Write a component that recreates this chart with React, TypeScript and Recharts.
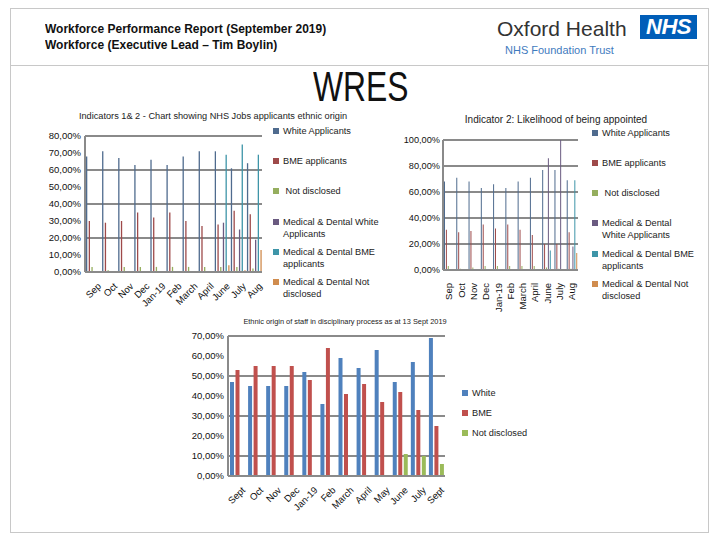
import React from 'react';
import { BarChart, Bar, XAxis, YAxis, CartesianGrid } from 'recharts';

// ---------- Chart 1: Indicators 1 & 2 ----------
const months1 = ['Sep', 'Oct', 'Nov', 'Dec', 'Jan-19', 'Feb', 'March', 'April', 'June', 'July', 'Aug'];
const c1White = [68, 71, 67, 63, 66, 63, 68, 71, 71, 61, 64];
const c1Bme = [30, 29, 30, 35, 32, 35, 30, 27, 28, 36, 34];
const c1Nd = [3, 1, 3, 3, 3, 3, 3, 3, 3, 3, 2];
const c1MdWhite = [0, 0, 0, 0, 0, 0, 0, 0, 29, 25, 19];
const c1MdBme = [0, 0, 0, 0, 0, 0, 0, 0, 69, 75, 69];
const c1MdNd = [0, 0, 0, 0, 0, 0, 0, 0, 4, 1, 13];
const ticks1 = [0, 10, 20, 30, 40, 50, 60, 70, 80];

// ---------- Chart 2: Likelihood of being appointed ----------
const months2 = ['Sep', 'Oct', 'Nov', 'Dec', 'Jan-19', 'Feb', 'March', 'April', 'June', 'July', 'Aug'];
const c2White = [68, 71, 68, 63, 66, 63, 68, 71, 77, 77, 69];
const c2Bme = [31, 29, 30, 35, 32, 35, 31, 27, 20, 20, 29];
const c2Nd = [3, 1, 2, 3, 3, 3, 3, 3, 2, 1, 1];
const c2MdWhite = [0, 0, 0, 0, 0, 0, 0, 0, 86, 100, 18];
const c2MdBme = [0, 0, 0, 0, 0, 0, 0, 0, 15, 0, 69];
const c2MdNd = [0, 0, 0, 0, 0, 0, 0, 0, 0, 0, 13];
const ticks2 = [0, 10, 20, 30, 40, 50, 60, 70, 80, 90, 100];

// ---------- Chart 3: Disciplinary process ----------
const months3 = ['Sept', 'Oct', 'Nov', 'Dec', 'Jan-19', 'Feb', 'March', 'April', 'May', 'June', 'July', 'Sept'];
const c3White = [47, 45, 45, 45, 52, 36, 59, 54, 63, 47, 57, 69];
const c3Bme = [53, 55, 55, 55, 48, 64, 41, 46, 37, 42, 33, 25];
const c3Nd = [0, 0, 0, 0, 0, 0, 0, 0, 0, 11, 10, 6];
const ticks3 = [0, 10, 20, 30, 40, 50, 60, 70];

const legend1 = ['White Applicants', 'BME applicants', ' Not disclosed', 'Medical & Dental White\nApplicants', 'Medical & Dental BME\napplicants', 'Medical & Dental Not\ndisclosed'];
const legend2 = ['White Applicants', 'BME applicants', ' Not disclosed', 'Medical & Dental\nWhite Applicants', 'Medical & Dental BME\napplicants', 'Medical & Dental Not\ndisclosed'];
const legend3 = ['White', 'BME', 'Not disclosed'];

const data1 = months1.map((m, i) => ({ m, a: c1White[i], b: c1Bme[i], c: c1Nd[i], d: c1MdWhite[i], e: c1MdBme[i], f: c1MdNd[i] }));
const data2 = months2.map((m, i) => ({ m, a: c2White[i], b: c2Bme[i], c: c2Nd[i], d: c2MdWhite[i], e: c2MdBme[i], f: c2MdNd[i] }));
const data3 = months3.map((m, i) => ({ m, a: c3White[i], b: c3Bme[i], c: c3Nd[i] }));

const colsA = ['#4F6B8E', '#9E4A4A', '#95AE5E', '#6A5A80', '#3E95A8', '#D08C4E'];
const colsB = ['#4F81BD', '#C0504D', '#9BBB59'];

const FONT = "'Liberation Sans', Arial, sans-serif";
const fmt = (v: number) => `${v.toFixed(2).replace('.', ',')}%`;
const GRID = '#8a8a8a';

const Tick45 = (props: any) => {
  const { x, y, payload } = props;
  return (
    <g transform={`translate(${x + 4},${y + 2}) rotate(-45)`}>
      <text x={0} y={0} dy="0.71em" textAnchor="end" fontSize={9.5} fill="#111" fontFamily={FONT}>{payload.value}</text>
    </g>
  );
};

const Tick90 = (props: any) => {
  const { x, y, payload } = props;
  return (
    <g transform={`translate(${x},${y + 5}) rotate(-90)`}>
      <text x={0} y={0} dy="0.35em" textAnchor="end" fontSize={9.5} fill="#111" fontFamily={FONT}>{payload.value}</text>
    </g>
  );
};

const Legend = ({ items, cols, x, y, gaps, w }: any) => (
  <div style={{ position: 'absolute', left: x, top: y, width: w, fontFamily: FONT, fontSize: 9.2, color: '#222' }}>
    {items.map((t: string, i: number) => (
      <div key={i} style={{ position: 'absolute', top: gaps[i], left: 0, display: 'flex', alignItems: 'flex-start', width: w }}>
        <div style={{ width: 6, height: 6, background: cols[i], marginTop: 3, marginRight: 4, flexShrink: 0 }} />
        <div style={{ lineHeight: '12px', whiteSpace: 'pre' }}>{t}</div>
      </div>
    ))}
  </div>
);

export default function App() {
  return (
    <div style={{ position: 'absolute', left: 0, top: 0, width: 720, height: 540, background: '#fff', fontFamily: FONT, overflow: 'hidden' }}>
      {/* frame */}
      <div style={{ position: 'absolute', left: 10, top: 8, width: 699, height: 525, border: '1px solid #c8c8c8', boxSizing: 'border-box' }} />
      <div style={{ position: 'absolute', left: 10, top: 65, width: 699, height: 1, background: '#c8c8c8' }} />

      {/* header */}
      <div style={{ position: 'absolute', left: 45, top: 21, fontWeight: 'bold', fontSize: 12.5, lineHeight: '16px', color: '#111', whiteSpace: 'nowrap', transformOrigin: 'left top', transform: 'scaleX(0.96)' }}>
        <div>Workforce Performance Report (September 2019)</div>
        <div>Workforce (Executive Lead – Tim Boylin)</div>
      </div>
      <div style={{ position: 'absolute', left: 497, top: 16, fontSize: 21, color: '#333', lineHeight: '26px' }}>Oxford Health</div>
      <div style={{ position: 'absolute', left: 505, top: 43, fontSize: 11, color: '#3F7BBE', lineHeight: '14px' }}>NHS Foundation Trust</div>
      <div style={{ position: 'absolute', left: 640, top: 15, width: 57, height: 24, background: '#005EB8', color: '#fff', fontWeight: 'bold', fontStyle: 'italic', fontSize: 22, lineHeight: '24px', textAlign: 'center', letterSpacing: -0.5 }}>NHS</div>
      <div style={{ position: 'absolute', left: 313, top: 60, fontSize: 43, lineHeight: '52px', color: '#111', whiteSpace: 'nowrap', transformOrigin: 'left top', transform: 'scaleX(0.74)' }}>WRES</div>

      {/* chart 1 */}
      <div style={{ position: 'absolute', left: 40, top: 111, width: 346, textAlign: 'center', fontSize: 9.2, color: '#222', whiteSpace: 'nowrap' }}>Indicators 1&amp; 2 - Chart showing NHS Jobs applicants ethnic origin</div>
      <div style={{ position: 'absolute', left: 20, top: 124 }}>
        <BarChart width={250} height={200} data={data1} margin={{ top: 12, right: 8, bottom: 20, left: 0 }} barSize={1.3} barGap={1.4}>
          <CartesianGrid vertical={false} stroke={GRID} strokeWidth={2} />
          <XAxis dataKey="m" height={32} tick={<Tick45 />} tickLine={false} axisLine={{ stroke: GRID, strokeWidth: 2 }} interval={0} />
          <YAxis width={65} domain={[0, 80]} ticks={ticks1} tickFormatter={fmt} tickLine={false} tickSize={0} tickMargin={4} axisLine={{ stroke: GRID, strokeWidth: 2 }} tick={{ fontSize: 9.5, fill: '#111', fontFamily: FONT }} />
          {['a', 'b', 'c', 'd', 'e', 'f'].map((k, i) => (
            <Bar key={k} dataKey={k} fill={colsA[i]} isAnimationActive={false} />
          ))}
        </BarChart>
      </div>
      <Legend items={legend1} cols={colsA} x={273} y={125} w={110} gaps={[0, 30, 60, 91, 121, 151]} />

      {/* chart 2 */}
      <div style={{ position: 'absolute', left: 441, top: 114, width: 230, textAlign: 'center', fontSize: 10, lineHeight: '12px', color: '#222', whiteSpace: 'nowrap' }}>Indicator 2: Likelihood of being appointed</div>
      <div style={{ position: 'absolute', left: 385, top: 127 }}>
        <BarChart width={200} height={200} data={data2} margin={{ top: 13, right: 7, bottom: 27, left: 0 }} barSize={1} barGap={0.9}>
          <CartesianGrid vertical={false} stroke={GRID} strokeWidth={2} />
          <XAxis dataKey="m" height={30} tick={<Tick90 />} tickLine={false} axisLine={{ stroke: GRID, strokeWidth: 2 }} interval={0} />
          <YAxis width={58} domain={[0, 100]} ticks={ticks2} tickFormatter={fmt} tickLine={false} tickSize={0} tickMargin={3} axisLine={{ stroke: GRID, strokeWidth: 2 }} tick={{ fontSize: 9.2, fill: '#111', fontFamily: FONT }} />
          {['a', 'b', 'c', 'd', 'e', 'f'].map((k, i) => (
            <Bar key={k} dataKey={k} fill={colsA[i]} isAnimationActive={false} />
          ))}
        </BarChart>
      </div>
      <Legend items={legend2} cols={colsA} x={592} y={127} w={115} gaps={[0, 30, 60, 90, 121, 151]} />

      {/* chart 3 */}
      <div style={{ position: 'absolute', left: 225, top: 317, width: 240, textAlign: 'center', fontSize: 7.4, color: '#222', whiteSpace: 'nowrap' }}>Ethnic origin of staff in disciplinary process as at 13 Sept 2019</div>
      <div style={{ position: 'absolute', left: 160, top: 323 }}>
        <BarChart width={290} height={200} data={data3} margin={{ top: 13, right: 5, bottom: 15, left: 0 }} barSize={4} barGap={1.5}>
          <CartesianGrid vertical={false} stroke={GRID} strokeWidth={2} />
          <XAxis dataKey="m" height={32} tick={<Tick45 />} tickLine={false} axisLine={{ stroke: GRID, strokeWidth: 2 }} interval={0} />
          <YAxis width={68} domain={[0, 70]} ticks={ticks3} tickFormatter={fmt} tickLine={false} tickSize={0} tickMargin={4} axisLine={{ stroke: GRID, strokeWidth: 2 }} tick={{ fontSize: 9.5, fill: '#111', fontFamily: FONT }} />
          {['a', 'b', 'c'].map((k, i) => (
            <Bar key={k} dataKey={k} fill={colsB[i]} isAnimationActive={false} />
          ))}
        </BarChart>
      </div>
      <Legend items={legend3} cols={colsB} x={462} y={387} w={100} gaps={[0, 20, 40]} />
    </div>
  );
}
